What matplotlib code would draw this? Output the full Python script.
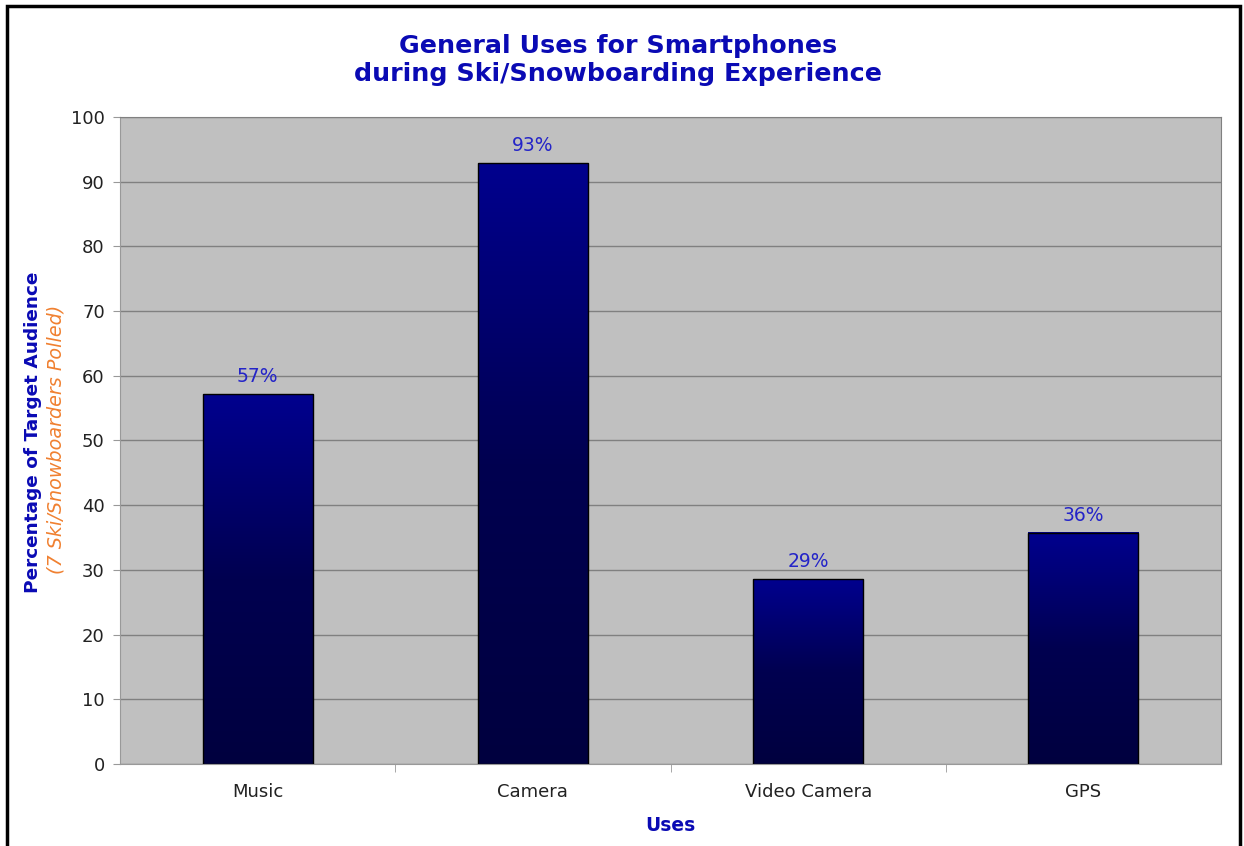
import matplotlib
matplotlib.use('Agg')
import numpy as np
import matplotlib.pyplot as plt
from matplotlib.patches import Rectangle
from matplotlib.colors import LinearSegmentedColormap

# Dades
usos = ['Music', 'Camera', 'Video Camera', 'GPS']
percentatges = [57.14, 92.86, 28.57, 35.71]
etiquetes = ['57%', '93%', '29%', '36%']

fig = plt.figure(figsize=(12.44, 8.46), dpi=100)
ax = fig.add_axes([0.0965, 0.097, 0.885, 0.7648])

ax.set_facecolor('#C0C0C0')
x = np.arange(len(usos))
bars = ax.bar(x, percentatges, width=0.4, color='none', edgecolor='black', linewidth=1, zorder=3)

# Degradat dins de cada barra (relatiu a l'alçada de cada barra)
cmap = LinearSegmentedColormap.from_list('grad', ['#00003F', '#000050', '#00008E'])
grad = np.linspace(0, 1, 256).reshape(-1, 1)
for b in bars:
    x0, y0 = b.get_x(), b.get_y()
    w, h = b.get_width(), b.get_height()
    ax.imshow(grad, cmap=cmap, origin='lower', aspect='auto',
              extent=[x0, x0 + w, y0, y0 + h], zorder=2)

for xi, v, t in zip(x, percentatges, etiquetes):
    ax.text(xi, v + 1.2, t, ha='center', va='bottom', color='#2424C8', fontsize=13.5)

ax.set_xlim(-0.5, len(usos) - 0.5)
ax.set_ylim(0, 100)
ax.set_yticks(np.arange(0, 101, 10))
ax.yaxis.grid(True, color='#808080', linewidth=1)
ax.set_axisbelow(True)

ax.set_xticks(x)
ax.set_xticklabels(usos, fontsize=13, color='#222222')
ax.tick_params(axis='x', length=0, pad=14)
ax.set_xticks(np.arange(0.5, len(usos) - 0.5, 1), minor=True)
ax.tick_params(axis='x', which='minor', length=6, color='#999999')
ax.tick_params(axis='y', labelsize=13, labelcolor='#222222', length=5, color='#999999', pad=6)

for s in ['top', 'right']:
    ax.spines[s].set_color('#808080')
for s in ['left', 'bottom']:
    ax.spines[s].set_color('#999999')

fig.text(0.497, 0.929, 'General Uses for Smartphones\nduring Ski/Snowboarding Experience',
         ha='center', va='center', fontsize=18.3, fontweight='bold', color='#0A0AB4', linespacing=1.2)

fig.text(0.0265, 0.489, 'Percentage of Target Audience', rotation=90, ha='center', va='center',
         fontsize=13.3, fontweight='bold', color='#0A0AB4')
fig.text(0.045, 0.481, '(7 Ski/Snowboarders Polled)', rotation=90, ha='center', va='center',
         fontsize=13.8, style='italic', color='#F08030')
fig.text(0.539, 0.024, 'Uses', ha='center', va='center', fontsize=13.5, fontweight='bold', color='#0A0AB4')

# Vora de la figura
fig.patches.append(Rectangle((7 / 1244, -0.01), 1233 / 1244, 1 - 6 / 846 + 0.01,
                             transform=fig.transFigure, fill=False, edgecolor='black', linewidth=2.5))

fig.savefig('out.png', dpi=100)
